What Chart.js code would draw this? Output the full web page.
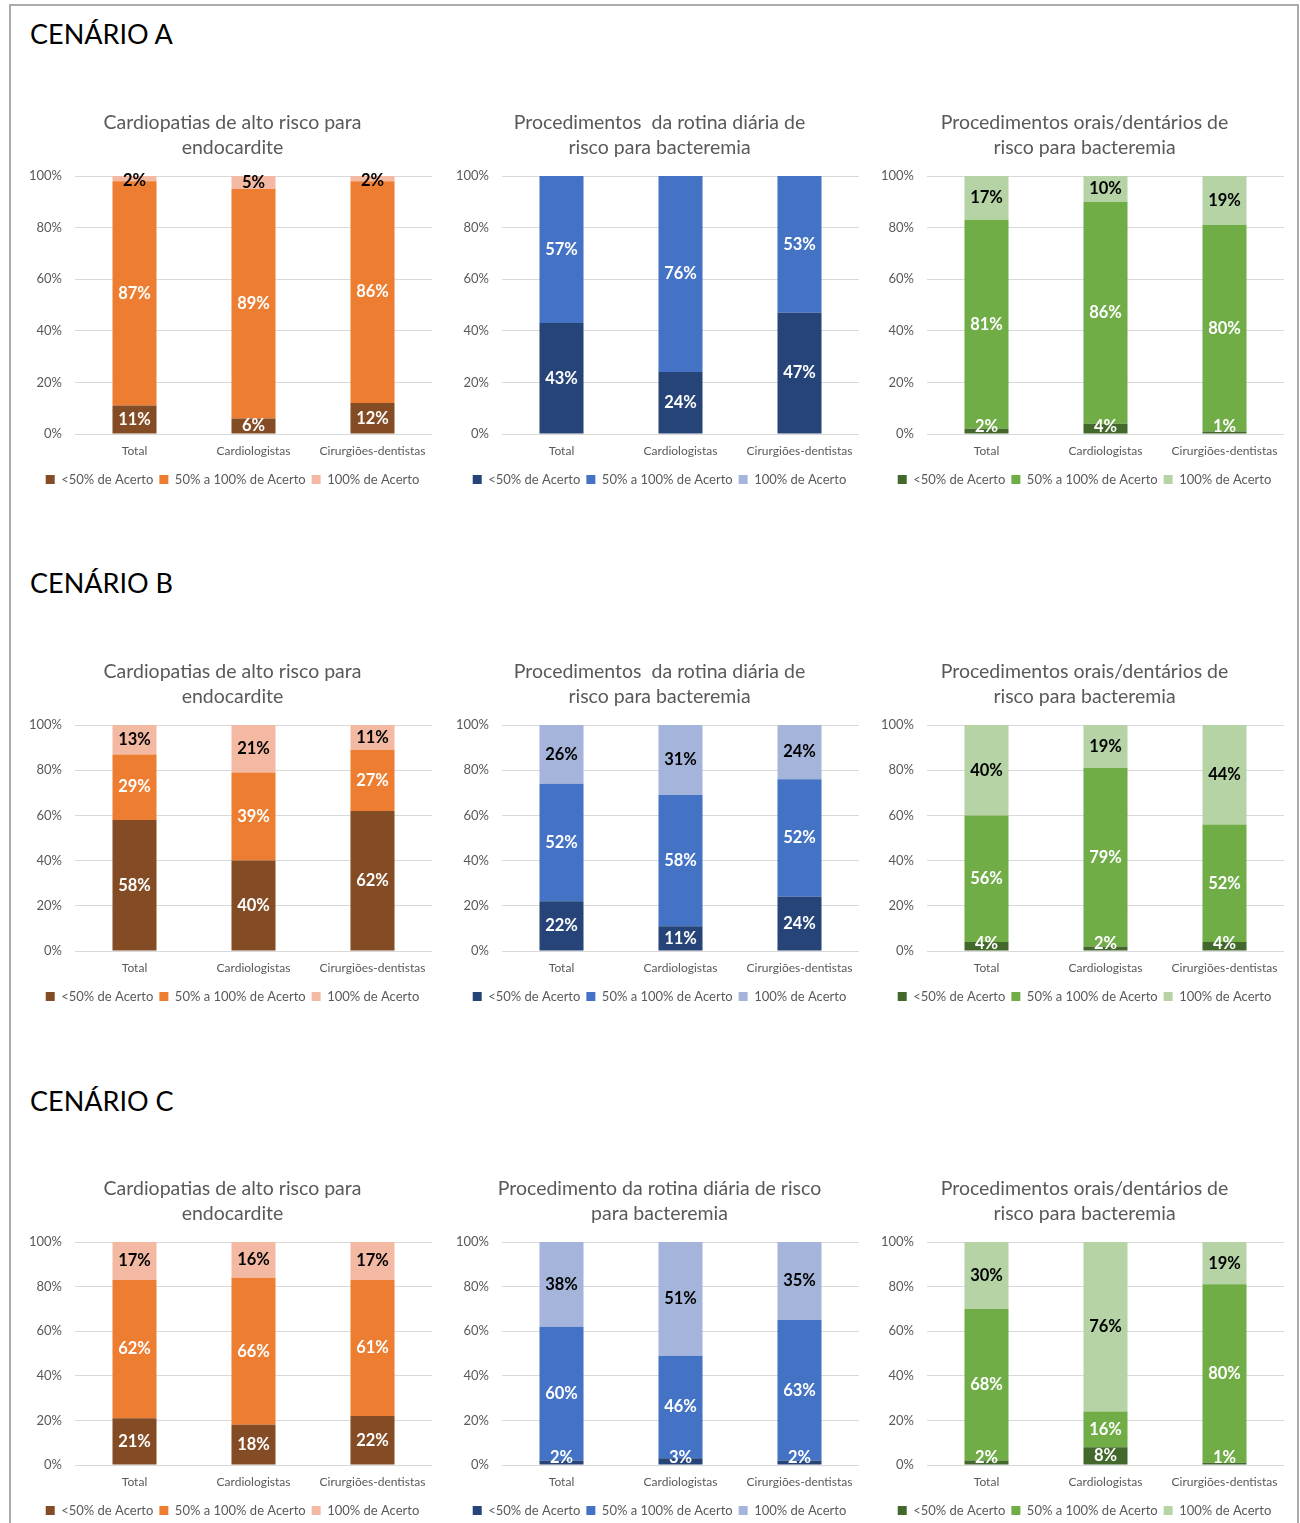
<!DOCTYPE html>
<html lang="pt">
<head>
<meta charset="utf-8">
<title>Cenários A, B e C</title>
<script src="https://cdn.jsdelivr.net/npm/chart.js@4.4.1/dist/chart.umd.min.js"></script>
<style>
  html, body { margin: 0; padding: 0; background: #fff; overflow: hidden; }
  body { width: 1300px; height: 1523px; position: relative; font-family: Lato, sans-serif; }
  .frame { position: absolute; left: 9px; top: 4px; width: 1290px; height: 1600px; border: 2px solid #ababab; box-sizing: border-box; }
  .cenario { position: absolute; left: 30px; font-size: 27px; line-height: 27px; color: #000; white-space: nowrap; }
  canvas { position: absolute; }
</style>
</head>
<body>
<div class="frame"></div>
<div class="cenario" style="top:20px">CENÁRIO A</div>
<div class="cenario" style="top:569px">CENÁRIO B</div>
<div class="cenario" style="top:1087px">CENÁRIO C</div>

<script>
const categories = ['Total', 'Cardiologistas', 'Cirurgiões-dentistas'];
const seriesNames = ['<50% de Acerto', '50% a 100% de Acerto', '100% de Acerto'];
const yTicks = [0, 20, 40, 60, 80, 100];

// each chart: [<50%, 50% a 100%, 100%] per category
const aCardiopatias = [[11, 6, 12], [87, 89, 86], [2, 5, 2]];
const aRotina = [[43, 24, 47], [57, 76, 53], [0, 0, 0]];
const aOrais = [[2, 4, 1], [81, 86, 80], [17, 10, 19]];

const bCardiopatias = [[58, 40, 62], [29, 39, 27], [13, 21, 11]];
const bRotina = [[22, 11, 24], [52, 58, 52], [26, 31, 24]];
const bOrais = [[4, 2, 4], [56, 79, 52], [40, 19, 44]];

const cCardiopatias = [[21, 18, 22], [62, 66, 61], [17, 16, 17]];
const cRotina = [[2, 3, 2], [60, 46, 63], [38, 51, 35]];
const cOrais = [[2, 8, 1], [68, 16, 80], [30, 76, 19]];

const titleCardiopatias = ['Cardiopatias de alto risco para', 'endocardite'];
const titleRotina = ['Procedimentos  da rotina diária de', 'risco para bacteremia'];
const titleRotinaC = ['Procedimento da rotina diária de risco', 'para bacteremia'];
const titleOrais = ['Procedimentos orais/dentários de', 'risco para bacteremia'];

const orangeColors = ['#844c24', '#ed7d31', '#f4b9a3'];
const blueColors = ['#264478', '#4472c4', '#a5b4db'];
const greenColors = ['#43682b', '#70ad47', '#b5d3a5'];

const grey = '#595959';

// value labels in the middle of each segment, kept inside the plot
const segmentLabels = {
  id: 'segmentLabels',
  afterDatasetsDraw(chart) {
    const ctx = chart.ctx;
    const area = chart.chartArea;
    ctx.save();
    ctx.font = 'bold 16.5px Lato';
    ctx.textAlign = 'center';
    ctx.textBaseline = 'middle';
    chart.data.datasets.forEach((ds, i) => {
      chart.getDatasetMeta(i).data.forEach((bar, j) => {
        const v = ds.data[j];
        if (!v) return;
        let y = (bar.y + bar.base) / 2;
        y = Math.min(Math.max(y, area.top + 5), area.bottom - 7);
        ctx.fillStyle = i === 2 ? '#000' : '#fff';
        ctx.fillText(v + '%', bar.x, y);
      });
    });
    ctx.restore();
  }
};

function makeChart(left, top, height, title, values, colors) {
  const canvas = document.createElement('canvas');
  canvas.width = 425;
  canvas.height = height;
  canvas.style.left = left + 'px';
  canvas.style.top = top + 'px';
  document.body.appendChild(canvas);

  new Chart(canvas, {
    type: 'bar',
    data: {
      labels: categories,
      datasets: seriesNames.map((name, i) => ({
        label: name,
        data: values[i],
        backgroundColor: colors[i],
        borderWidth: 0,
        barPercentage: 0.37,
        categoryPercentage: 1,
        yAxisID: 'y'
      }))
    },
    options: {
      responsive: false,
      animation: false,
      events: [],
      layout: { padding: 0 },
      plugins: {
        title: {
          display: true,
          text: title,
          color: grey,
          font: { family: 'Lato', size: 19.5, weight: 'normal', lineHeight: '25px' },
          padding: { top: 0, bottom: 16 }
        },
        legend: {
          position: 'bottom',
          labels: {
            color: grey,
            font: { family: 'Lato', size: 13 },
            boxWidth: 9,
            boxHeight: 9,
            padding: 6
          }
        },
        tooltip: { enabled: false }
      },
      scales: {
        y: {
          stacked: true,
          min: 0,
          max: 100,
          afterBuildTicks: (s) => { s.ticks = yTicks.map(v => ({ value: v })); },
          ticks: { color: grey, font: { family: 'Lato', size: 13 }, padding: 13, callback: v => v + '%' },
          grid: { color: '#d9d9d9', lineWidth: 1, drawTicks: false },
          border: { display: false },
          afterFit: (s) => { s.width = 55; }
        },
        yR: {
          position: 'right',
          grid: { display: false },
          ticks: { display: false },
          border: { display: false },
          afterFit: (s) => { s.width = 13; }
        },
        x: {
          stacked: true,
          ticks: { color: grey, font: { family: 'Lato', size: 12 }, padding: 10, maxRotation: 0 },
          grid: { display: false, drawTicks: false },
          border: { display: false },
          afterFit: (s) => { s.height = 33; }
        }
      }
    },
    plugins: [segmentLabels]
  });
}

const colLeft = [20, 447, 872];

makeChart(colLeft[0], 110, 386, titleCardiopatias, aCardiopatias, orangeColors);
makeChart(colLeft[1], 110, 386, titleRotina, aRotina, blueColors);
makeChart(colLeft[2], 110, 386, titleOrais, aOrais, greenColors);

makeChart(colLeft[0], 659, 354, titleCardiopatias, bCardiopatias, orangeColors);
makeChart(colLeft[1], 659, 354, titleRotina, bRotina, blueColors);
makeChart(colLeft[2], 659, 354, titleOrais, bOrais, greenColors);

makeChart(colLeft[0], 1176, 351, titleCardiopatias, cCardiopatias, orangeColors);
makeChart(colLeft[1], 1176, 351, titleRotinaC, cRotina, blueColors);
makeChart(colLeft[2], 1176, 351, titleOrais, cOrais, greenColors);
</script>
</body>
</html>
